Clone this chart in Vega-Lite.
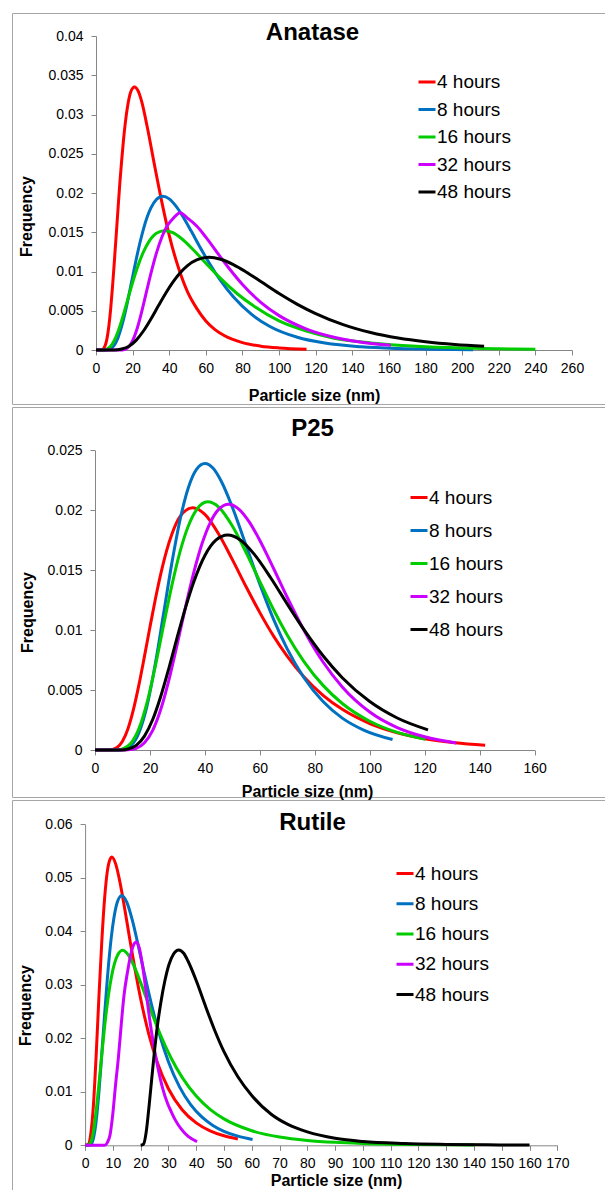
{
  "$schema": "https://vega.github.io/schema/vega-lite/v6.json",
  "padding": {"left": 11, "top": 12, "right": 0, "bottom": 0},
  "spacing": 3,
  "bounds": "flush",
  "config": {
    "view": {"stroke": "#a6a6a6", "strokeWidth": 1},
    "font": "Liberation Sans",
    "axis": {"domainColor": "#868686", "tickColor": "#868686", "labelColor": "#000000", "titleColor": "#000000", "labelFont": "Liberation Sans", "titleFont": "Liberation Sans", "labelFontSize": 14, "titleFontSize": 16, "titleFontWeight": "bold", "grid": false, "tickSize": 5, "labelFlush": false, "labelOverlap": false},
    "title": {"font": "Liberation Sans", "fontSize": 24, "fontWeight": "bold", "color": "#000000", "anchor": "middle", "frame": "group", "baseline": "alphabetic"},
    "legend": {"orient": "none", "title": null, "symbolType": "stroke", "symbolSize": 289, "symbolStrokeWidth": 3, "labelFontSize": 19, "labelFont": "Liberation Sans", "labelColor": "#000000", "labelOffset": 0, "padding": 0, "labelLimit": 0}
  },
  "datasets": {
    "anatase": [
      {"series":"4 hours","size":0,"freq":0},{"series":"4 hours","size":3,"freq":0},{"series":"4 hours","size":5,"freq":0.00055},{"series":"4 hours","size":6,"freq":0.00145},{"series":"4 hours","size":7,"freq":0.003},{"series":"4 hours","size":8,"freq":0.0052},{"series":"4 hours","size":9,"freq":0.008},{"series":"4 hours","size":10,"freq":0.0112},{"series":"4 hours","size":11,"freq":0.0145},{"series":"4 hours","size":12,"freq":0.0179},{"series":"4 hours","size":13,"freq":0.0212},{"series":"4 hours","size":14,"freq":0.0241},{"series":"4 hours","size":15,"freq":0.0267},{"series":"4 hours","size":16,"freq":0.0289},{"series":"4 hours","size":17.3,"freq":0.0311},{"series":"4 hours","size":19,"freq":0.0329},{"series":"4 hours","size":21,"freq":0.0335},{"series":"4 hours","size":23,"freq":0.033},{"series":"4 hours","size":25,"freq":0.0316},{"series":"4 hours","size":28,"freq":0.0284},{"series":"4 hours","size":32,"freq":0.0235},{"series":"4 hours","size":36,"freq":0.0188},{"series":"4 hours","size":40,"freq":0.0146},{"series":"4 hours","size":45,"freq":0.0105},{"series":"4 hours","size":50,"freq":0.0074},{"series":"4 hours","size":55,"freq":0.0053},{"series":"4 hours","size":60,"freq":0.0037},{"series":"4 hours","size":65,"freq":0.0026},{"series":"4 hours","size":70,"freq":0.00185},{"series":"4 hours","size":80,"freq":0.00094},{"series":"4 hours","size":90,"freq":0.00049},{"series":"4 hours","size":100,"freq":0.00026},{"series":"4 hours","size":115,"freq":0.0001},
      {"series":"8 hours","size":0,"freq":0},{"series":"8 hours","size":6,"freq":0},{"series":"8 hours","size":8,"freq":0.00018},{"series":"8 hours","size":10,"freq":0.00063},{"series":"8 hours","size":12,"freq":0.00155},{"series":"8 hours","size":14,"freq":0.003},{"series":"8 hours","size":16,"freq":0.00486},{"series":"8 hours","size":18,"freq":0.00704},{"series":"8 hours","size":20,"freq":0.00933},{"series":"8 hours","size":22,"freq":0.01159},{"series":"8 hours","size":24,"freq":0.01366},{"series":"8 hours","size":26,"freq":0.01547},{"series":"8 hours","size":28,"freq":0.01696},{"series":"8 hours","size":30,"freq":0.0181},{"series":"8 hours","size":33,"freq":0.01918},{"series":"8 hours","size":36.5,"freq":0.0196},{"series":"8 hours","size":40,"freq":0.01925},{"series":"8 hours","size":44,"freq":0.01823},{"series":"8 hours","size":48,"freq":0.01679},{"series":"8 hours","size":52,"freq":0.01515},{"series":"8 hours","size":57,"freq":0.01303},{"series":"8 hours","size":62,"freq":0.01102},{"series":"8 hours","size":68,"freq":0.00886},{"series":"8 hours","size":75,"freq":0.00677},{"series":"8 hours","size":85,"freq":0.00453},{"series":"8 hours","size":95,"freq":0.003},{"series":"8 hours","size":110,"freq":0.00162},{"series":"8 hours","size":125,"freq":0.00088},{"series":"8 hours","size":145,"freq":0.0004},{"series":"8 hours","size":165,"freq":0.000185},{"series":"8 hours","size":185,"freq":0.00009},{"series":"8 hours","size":206,"freq":0.00004},
      {"series":"16 hours","size":0,"freq":0},{"series":"16 hours","size":4,"freq":0},{"series":"16 hours","size":6,"freq":0.00012},{"series":"16 hours","size":8,"freq":0.00048},{"series":"16 hours","size":10,"freq":0.00122},{"series":"16 hours","size":12,"freq":0.00233},{"series":"16 hours","size":14,"freq":0.00374},{"series":"16 hours","size":16,"freq":0.00533},{"series":"16 hours","size":18,"freq":0.00698},{"series":"16 hours","size":20,"freq":0.0086},{"series":"16 hours","size":23,"freq":0.01078},{"series":"16 hours","size":26,"freq":0.01254},{"series":"16 hours","size":29,"freq":0.01384},{"series":"16 hours","size":33,"freq":0.01487},{"series":"16 hours","size":37.5,"freq":0.0152},{"series":"16 hours","size":42,"freq":0.01494},{"series":"16 hours","size":47,"freq":0.01414},{"series":"16 hours","size":53,"freq":0.0128},{"series":"16 hours","size":60,"freq":0.01106},{"series":"16 hours","size":68,"freq":0.00912},{"series":"16 hours","size":77,"freq":0.0072},{"series":"16 hours","size":87,"freq":0.00547},{"series":"16 hours","size":100,"freq":0.0037},{"series":"16 hours","size":115,"freq":0.0024},{"series":"16 hours","size":130,"freq":0.0015},{"series":"16 hours","size":150,"freq":0.0009},{"series":"16 hours","size":175,"freq":0.00047},{"series":"16 hours","size":200,"freq":0.00025},{"series":"16 hours","size":220,"freq":0.00016},{"series":"16 hours","size":240,"freq":0.0001},
      {"series":"32 hours","size":0,"freq":0},{"series":"32 hours","size":13,"freq":0},{"series":"32 hours","size":16,"freq":0.0001},{"series":"32 hours","size":18,"freq":0.00043},{"series":"32 hours","size":20,"freq":0.00119},{"series":"32 hours","size":22,"freq":0.0024},{"series":"32 hours","size":24,"freq":0.00401},{"series":"32 hours","size":26,"freq":0.00588},{"series":"32 hours","size":28,"freq":0.00784},{"series":"32 hours","size":30,"freq":0.00976},{"series":"32 hours","size":33,"freq":0.01234},{"series":"32 hours","size":36,"freq":0.0144},{"series":"32 hours","size":39,"freq":0.01585},{"series":"32 hours","size":42,"freq":0.01672},{"series":"32 hours","size":46,"freq":0.0175},{"series":"32 hours","size":50,"freq":0.0168},{"series":"32 hours","size":55,"freq":0.01579},{"series":"32 hours","size":60,"freq":0.01437},{"series":"32 hours","size":66,"freq":0.01247},{"series":"32 hours","size":72,"freq":0.0106},{"series":"32 hours","size":80,"freq":0.00835},{"series":"32 hours","size":90,"freq":0.00608},{"series":"32 hours","size":100,"freq":0.00438},{"series":"32 hours","size":115,"freq":0.00267},{"series":"32 hours","size":130,"freq":0.00163},{"series":"32 hours","size":145,"freq":0.001},{"series":"32 hours","size":161,"freq":0.0006},
      {"series":"48 hours","size":0,"freq":0},{"series":"48 hours","size":10,"freq":0},{"series":"48 hours","size":14,"freq":0.00012},{"series":"48 hours","size":18,"freq":0.00048},{"series":"48 hours","size":22,"freq":0.00126},{"series":"48 hours","size":26,"freq":0.00245},{"series":"48 hours","size":30,"freq":0.00395},{"series":"48 hours","size":34,"freq":0.00559},{"series":"48 hours","size":38,"freq":0.0072},{"series":"48 hours","size":42,"freq":0.00864},{"series":"48 hours","size":46,"freq":0.00984},{"series":"48 hours","size":50,"freq":0.01075},{"series":"48 hours","size":55,"freq":0.01147},{"series":"48 hours","size":61.7,"freq":0.0118},{"series":"48 hours","size":68,"freq":0.01156},{"series":"48 hours","size":75,"freq":0.01088},{"series":"48 hours","size":82,"freq":0.00994},{"series":"48 hours","size":90,"freq":0.00873},{"series":"48 hours","size":100,"freq":0.0072},{"series":"48 hours","size":110,"freq":0.00582},{"series":"48 hours","size":120,"freq":0.00464},{"series":"48 hours","size":135,"freq":0.00323},{"series":"48 hours","size":150,"freq":0.00223},{"series":"48 hours","size":165,"freq":0.00153},{"series":"48 hours","size":180,"freq":0.00105},{"series":"48 hours","size":196,"freq":0.0007},{"series":"48 hours","size":212,"freq":0.00047}
    ],
    "p25": [
      {"series":"4 hours","size":0,"freq":0},{"series":"4 hours","size":5,"freq":0},{"series":"4 hours","size":8,"freq":0.00021},{"series":"4 hours","size":10,"freq":0.00073},{"series":"4 hours","size":12,"freq":0.00178},{"series":"4 hours","size":14,"freq":0.00339},{"series":"4 hours","size":16,"freq":0.00545},{"series":"4 hours","size":18,"freq":0.00781},{"series":"4 hours","size":20,"freq":0.01026},{"series":"4 hours","size":22,"freq":0.01261},{"series":"4 hours","size":24,"freq":0.01475},{"series":"4 hours","size":26,"freq":0.01657},{"series":"4 hours","size":28,"freq":0.01802},{"series":"4 hours","size":31,"freq":0.01949},{"series":"4 hours","size":35.5,"freq":0.0202},{"series":"4 hours","size":40,"freq":0.01965},{"series":"4 hours","size":45,"freq":0.01802},{"series":"4 hours","size":50,"freq":0.01588},{"series":"4 hours","size":55,"freq":0.01362},{"series":"4 hours","size":60,"freq":0.01146},{"series":"4 hours","size":65,"freq":0.0095},{"series":"4 hours","size":70,"freq":0.00781},{"series":"4 hours","size":76,"freq":0.00611},{"series":"4 hours","size":83,"freq":0.00456},{"series":"4 hours","size":90,"freq":0.00339},{"series":"4 hours","size":100,"freq":0.00221},{"series":"4 hours","size":110,"freq":0.00144},{"series":"4 hours","size":120,"freq":0.00094},{"series":"4 hours","size":131,"freq":0.0006},{"series":"4 hours","size":142,"freq":0.0004},
      {"series":"8 hours","size":0,"freq":0},{"series":"8 hours","size":8,"freq":0},{"series":"8 hours","size":10,"freq":0.00004},{"series":"8 hours","size":13,"freq":0.00035},{"series":"8 hours","size":16,"freq":0.00145},{"series":"8 hours","size":19,"freq":0.00375},{"series":"8 hours","size":22,"freq":0.00725},{"series":"8 hours","size":25,"freq":0.01144},{"series":"8 hours","size":28,"freq":0.01563},{"series":"8 hours","size":31,"freq":0.01925},{"series":"8 hours","size":34,"freq":0.0219},{"series":"8 hours","size":37,"freq":0.02343},{"series":"8 hours","size":40,"freq":0.0239},{"series":"8 hours","size":43,"freq":0.0235},{"series":"8 hours","size":46,"freq":0.0224},{"series":"8 hours","size":50,"freq":0.02025},{"series":"8 hours","size":55,"freq":0.01705},{"series":"8 hours","size":60,"freq":0.01382},{"series":"8 hours","size":65,"freq":0.01089},{"series":"8 hours","size":70,"freq":0.00841},{"series":"8 hours","size":76,"freq":0.00605},{"series":"8 hours","size":83,"freq":0.00404},{"series":"8 hours","size":90,"freq":0.00266},{"series":"8 hours","size":98,"freq":0.00164},{"series":"8 hours","size":108.3,"freq":0.00087},
      {"series":"16 hours","size":0,"freq":0},{"series":"16 hours","size":8,"freq":0},{"series":"16 hours","size":10,"freq":0.00009},{"series":"16 hours","size":13,"freq":0.00054},{"series":"16 hours","size":16,"freq":0.00178},{"series":"16 hours","size":19,"freq":0.00401},{"series":"16 hours","size":22,"freq":0.00704},{"series":"16 hours","size":25,"freq":0.01045},{"series":"16 hours","size":28,"freq":0.01375},{"series":"16 hours","size":31,"freq":0.01659},{"series":"16 hours","size":34,"freq":0.01871},{"series":"16 hours","size":37,"freq":0.02006},{"series":"16 hours","size":41,"freq":0.0207},{"series":"16 hours","size":45,"freq":0.02027},{"series":"16 hours","size":50,"freq":0.01868},{"series":"16 hours","size":55,"freq":0.01647},{"series":"16 hours","size":60,"freq":0.01405},{"series":"16 hours","size":65,"freq":0.0117},{"series":"16 hours","size":70,"freq":0.00958},{"series":"16 hours","size":76,"freq":0.0074},{"series":"16 hours","size":83,"freq":0.00539},{"series":"16 hours","size":90,"freq":0.00388},{"series":"16 hours","size":100,"freq":0.0024},{"series":"16 hours","size":110,"freq":0.00147},{"series":"16 hours","size":120.2,"freq":0.00089},
      {"series":"32 hours","size":0,"freq":0},{"series":"32 hours","size":10,"freq":0},{"series":"32 hours","size":12,"freq":0.00002},{"series":"32 hours","size":15,"freq":0.00014},{"series":"32 hours","size":18,"freq":0.0006},{"series":"32 hours","size":21,"freq":0.00164},{"series":"32 hours","size":24,"freq":0.00344},{"series":"32 hours","size":27,"freq":0.00594},{"series":"32 hours","size":30,"freq":0.0089},{"series":"32 hours","size":33,"freq":0.01198},{"series":"32 hours","size":36,"freq":0.01485},{"series":"32 hours","size":39,"freq":0.01724},{"series":"32 hours","size":42,"freq":0.01899},{"series":"32 hours","size":45,"freq":0.02007},{"series":"32 hours","size":48.6,"freq":0.0205},{"series":"32 hours","size":52,"freq":0.02016},{"series":"32 hours","size":56,"freq":0.01907},{"series":"32 hours","size":60,"freq":0.01748},{"series":"32 hours","size":65,"freq":0.01514},{"series":"32 hours","size":70,"freq":0.01272},{"series":"32 hours","size":76,"freq":0.01001},{"series":"32 hours","size":83,"freq":0.00734},{"series":"32 hours","size":90,"freq":0.00526},{"series":"32 hours","size":100,"freq":0.00317},{"series":"32 hours","size":110,"freq":0.00187},{"series":"32 hours","size":120,"freq":0.0011},{"series":"32 hours","size":131.5,"freq":0.00059},
      {"series":"48 hours","size":0,"freq":0},{"series":"48 hours","size":10,"freq":0},{"series":"48 hours","size":12,"freq":0.00008},{"series":"48 hours","size":15,"freq":0.00038},{"series":"48 hours","size":18,"freq":0.00116},{"series":"48 hours","size":21,"freq":0.00254},{"series":"48 hours","size":24,"freq":0.00453},{"series":"48 hours","size":27,"freq":0.00692},{"series":"48 hours","size":30,"freq":0.00947},{"series":"48 hours","size":33,"freq":0.01192},{"series":"48 hours","size":36,"freq":0.01406},{"series":"48 hours","size":40,"freq":0.01623},{"series":"48 hours","size":44,"freq":0.0175},{"series":"48 hours","size":48.3,"freq":0.01793},{"series":"48 hours","size":53,"freq":0.0175},{"series":"48 hours","size":58,"freq":0.01632},{"series":"48 hours","size":64,"freq":0.01435},{"series":"48 hours","size":70,"freq":0.01217},{"series":"48 hours","size":76,"freq":0.01006},{"series":"48 hours","size":83,"freq":0.00786},{"series":"48 hours","size":90,"freq":0.00603},{"series":"48 hours","size":100,"freq":0.00404},{"series":"48 hours","size":110,"freq":0.00267},{"series":"48 hours","size":121.2,"freq":0.00168}
    ],
    "rutile": [
      {"series":"4 hours","size":0,"freq":0},{"series":"4 hours","size":1,"freq":0.0001},{"series":"4 hours","size":2,"freq":0.002},{"series":"4 hours","size":3,"freq":0.0075},{"series":"4 hours","size":4,"freq":0.017},{"series":"4 hours","size":5,"freq":0.028},{"series":"4 hours","size":6,"freq":0.038},{"series":"4 hours","size":7,"freq":0.046},{"series":"4 hours","size":8,"freq":0.0512},{"series":"4 hours","size":9,"freq":0.0535},{"series":"4 hours","size":9.6,"freq":0.0539},{"series":"4 hours","size":11,"freq":0.0526},{"series":"4 hours","size":12.5,"freq":0.0493},{"series":"4 hours","size":14,"freq":0.045},{"series":"4 hours","size":16,"freq":0.0388},{"series":"4 hours","size":18,"freq":0.0328},{"series":"4 hours","size":20,"freq":0.0274},{"series":"4 hours","size":23,"freq":0.02065},{"series":"4 hours","size":26,"freq":0.0155},{"series":"4 hours","size":30,"freq":0.01057},{"series":"4 hours","size":35,"freq":0.00661},{"series":"4 hours","size":40,"freq":0.0042},{"series":"4 hours","size":45,"freq":0.00271},{"series":"4 hours","size":50,"freq":0.00178},{"series":"4 hours","size":55,"freq":0.00119},
      {"series":"8 hours","size":0,"freq":0},{"series":"8 hours","size":1,"freq":0},{"series":"8 hours","size":2,"freq":0.00014},{"series":"8 hours","size":3,"freq":0.0013},{"series":"8 hours","size":4,"freq":0.00462},{"series":"8 hours","size":5,"freq":0.0101},{"series":"8 hours","size":6,"freq":0.017},{"series":"8 hours","size":7,"freq":0.0243},{"series":"8 hours","size":8,"freq":0.0311},{"series":"8 hours","size":9,"freq":0.0368},{"series":"8 hours","size":10,"freq":0.0412},{"series":"8 hours","size":11.5,"freq":0.0453},{"series":"8 hours","size":13.2,"freq":0.0467},{"series":"8 hours","size":15,"freq":0.04546},{"series":"8 hours","size":17,"freq":0.04208},{"series":"8 hours","size":19,"freq":0.03764},{"series":"8 hours","size":21,"freq":0.0329},{"series":"8 hours","size":24,"freq":0.02613},{"series":"8 hours","size":27,"freq":0.02033},{"series":"8 hours","size":30,"freq":0.01563},{"series":"8 hours","size":34,"freq":0.01091},{"series":"8 hours","size":38,"freq":0.0076},{"series":"8 hours","size":42,"freq":0.0053},{"series":"8 hours","size":46,"freq":0.00372},{"series":"8 hours","size":50,"freq":0.00262},{"series":"8 hours","size":55,"freq":0.00171},{"series":"8 hours","size":60.3,"freq":0.0011},
      {"series":"16 hours","size":0,"freq":0},{"series":"16 hours","size":1,"freq":0},{"series":"16 hours","size":2,"freq":0.00052},{"series":"16 hours","size":3,"freq":0.0026},{"series":"16 hours","size":4,"freq":0.0065},{"series":"16 hours","size":5,"freq":0.01152},{"series":"16 hours","size":6,"freq":0.01692},{"series":"16 hours","size":7,"freq":0.02203},{"series":"16 hours","size":8,"freq":0.02646},{"series":"16 hours","size":9,"freq":0.03005},{"series":"16 hours","size":10,"freq":0.03278},{"series":"16 hours","size":11.5,"freq":0.03533},{"series":"16 hours","size":13.5,"freq":0.03645},{"series":"16 hours","size":15,"freq":0.03594},{"series":"16 hours","size":17,"freq":0.03422},{"series":"16 hours","size":19,"freq":0.03177},{"series":"16 hours","size":21,"freq":0.029},{"series":"16 hours","size":24,"freq":0.02475},{"series":"16 hours","size":27,"freq":0.0208},{"series":"16 hours","size":31,"freq":0.01627},{"series":"16 hours","size":35,"freq":0.01264},{"series":"16 hours","size":40,"freq":0.0092},{"series":"16 hours","size":45,"freq":0.00672},{"series":"16 hours","size":50,"freq":0.00494},{"series":"16 hours","size":60,"freq":0.00272},{"series":"16 hours","size":70,"freq":0.00155},{"series":"16 hours","size":80,"freq":0.00091},{"series":"16 hours","size":90,"freq":0.00055},{"series":"16 hours","size":100,"freq":0.00034},{"series":"16 hours","size":120,"freq":0.00014},{"series":"16 hours","size":140,"freq":0.00006},
      {"series":"32 hours","size":0,"freq":0},{"series":"32 hours","size":7,"freq":0},{"series":"32 hours","size":8,"freq":0.0005},{"series":"32 hours","size":9,"freq":0.002},{"series":"32 hours","size":9.9,"freq":0.0055},{"series":"32 hours","size":11,"freq":0.0115},{"series":"32 hours","size":12,"freq":0.0165},{"series":"32 hours","size":13,"freq":0.0225},{"series":"32 hours","size":14,"freq":0.028},{"series":"32 hours","size":15.3,"freq":0.0325},{"series":"32 hours","size":16.5,"freq":0.0358},{"series":"32 hours","size":17.5,"freq":0.0375},{"series":"32 hours","size":18.4,"freq":0.038},{"series":"32 hours","size":19.5,"freq":0.0369},{"series":"32 hours","size":20.7,"freq":0.0335},{"series":"32 hours","size":22,"freq":0.0285},{"series":"32 hours","size":23.1,"freq":0.0241},{"series":"32 hours","size":24.5,"freq":0.0193},{"series":"32 hours","size":26.1,"freq":0.0148},{"series":"32 hours","size":28,"freq":0.0105},{"series":"32 hours","size":29.7,"freq":0.0078},{"series":"32 hours","size":31,"freq":0.0063},{"series":"32 hours","size":32.5,"freq":0.0047},{"series":"32 hours","size":34.5,"freq":0.0031},{"series":"32 hours","size":37,"freq":0.0017},{"series":"32 hours","size":40.3,"freq":0.0007},
      {"series":"48 hours","size":20,"freq":0},{"series":"48 hours","size":21,"freq":0.0002},{"series":"48 hours","size":22,"freq":0.0025},{"series":"48 hours","size":23,"freq":0.0072},{"series":"48 hours","size":24,"freq":0.0125},{"series":"48 hours","size":25,"freq":0.0177},{"series":"48 hours","size":26,"freq":0.0222},{"series":"48 hours","size":27.3,"freq":0.0268},{"series":"48 hours","size":28.7,"freq":0.0307},{"series":"48 hours","size":30.2,"freq":0.0338},{"series":"48 hours","size":31.8,"freq":0.0357},{"series":"48 hours","size":33.7,"freq":0.0365},{"series":"48 hours","size":35.5,"freq":0.0359},{"series":"48 hours","size":37,"freq":0.0345},{"series":"48 hours","size":40,"freq":0.0308},{"series":"48 hours","size":43,"freq":0.0265},{"series":"48 hours","size":46.5,"freq":0.0217},{"series":"48 hours","size":50,"freq":0.0175},{"series":"48 hours","size":55,"freq":0.0128},{"series":"48 hours","size":60,"freq":0.0093},{"series":"48 hours","size":67,"freq":0.0058},{"series":"48 hours","size":73,"freq":0.0039},{"series":"48 hours","size":80,"freq":0.0025},{"series":"48 hours","size":90,"freq":0.0013},{"series":"48 hours","size":100,"freq":0.0007},{"series":"48 hours","size":115,"freq":0.00033},{"series":"48 hours","size":130,"freq":0.00017},{"series":"48 hours","size":145,"freq":0.00008},{"series":"48 hours","size":160,"freq":0.00005}
    ]
  },
  "vconcat": [
    {
      "width": 602, "height": 391,
      "data": {"name": "anatase"},
      "title": {"text": "Anatase", "offset": -32.2, "dx": -0.5},
      "mark": {"type": "line", "strokeWidth": 3, "interpolate": "monotone"},
      "encoding": {
        "x": {"field": "size", "type": "quantitative", "scale": {"domain": [0, 260], "range": [84, 560], "nice": false},
              "axis": {"values": [0,20,40,60,80,100,120,140,160,180,200,220,240,260], "format": "d", "offset": -54, "labelPadding": 6, "title": "Particle size (nm)", "titleX": 302, "titleY": 50, "titleBaseline": "alphabetic"}},
        "y": {"field": "freq", "type": "quantitative", "scale": {"domain": [0, 0.04], "range": [337, 23], "nice": false},
              "axis": {"values": [0,0.005,0.01,0.015,0.02,0.025,0.03,0.035,0.04], "format": ".3~f", "offset": -84, "labelPadding": 8, "title": "Frequency", "titleX": -70, "titleY": 203, "titleBaseline": "middle", "titleAngle": -90}},
        "color": {"field": "series", "type": "nominal",
                  "scale": {"domain": ["4 hours","8 hours","16 hours","32 hours","48 hours"], "range": ["#ff0000","#0070c0","#00cc00","#cc00ff","#000000"]},
                  "legend": {"legendX": 405, "legendY": 59, "rowPadding": 7.5}}
      }
    },
    {
      "width": 602, "height": 390,
      "data": {"name": "p25"},
      "title": {"text": "P25", "offset": -33.8, "dx": -0.5},
      "mark": {"type": "line", "strokeWidth": 3, "interpolate": "monotone"},
      "encoding": {
        "x": {"field": "size", "type": "quantitative", "scale": {"domain": [0, 160], "range": [83, 522.6], "nice": false},
              "axis": {"values": [0,20,40,60,80,100,120,140,160], "format": "d", "offset": -47, "labelPadding": 6, "title": "Particle size (nm)", "titleX": 295, "titleY": 46, "titleBaseline": "alphabetic"}},
        "y": {"field": "freq", "type": "quantitative", "scale": {"domain": [0, 0.025], "range": [343, 43.3], "nice": false},
              "axis": {"values": [0,0.005,0.01,0.015,0.02,0.025], "format": ".3~f", "offset": -83, "labelPadding": 8, "title": "Frequency", "titleX": -68, "titleY": 205, "titleBaseline": "middle", "titleAngle": -90}},
        "color": {"field": "series", "type": "nominal",
                  "scale": {"domain": ["4 hours","8 hours","16 hours","32 hours","48 hours"], "range": ["#ff0000","#0070c0","#00cc00","#cc00ff","#000000"]},
                  "legend": {"legendX": 397, "legendY": 80.5, "rowPadding": 13}}
      }
    },
    {
      "width": 602, "height": 391,
      "data": {"name": "rutile"},
      "title": {"text": "Rutile", "offset": -35.2, "dx": -0.5},
      "mark": {"type": "line", "strokeWidth": 3, "interpolate": "monotone"},
      "encoding": {
        "x": {"field": "size", "type": "quantitative", "scale": {"domain": [0, 170], "range": [73.1, 545.3], "nice": false},
              "axis": {"values": [0,10,20,30,40,50,60,70,80,90,100,110,120,130,140,150,160,170], "format": "d", "offset": -45.7, "labelPadding": 6, "title": "Particle size (nm)", "titleX": 324, "titleY": 40, "titleBaseline": "alphabetic"}},
        "y": {"field": "freq", "type": "quantitative", "scale": {"domain": [0, 0.06], "range": [345.3, 24.3], "nice": false},
              "axis": {"values": [0,0.01,0.02,0.03,0.04,0.05,0.06], "format": ".2~f", "offset": -73.1, "labelPadding": 8, "title": "Frequency", "titleX": -60, "titleY": 205, "titleBaseline": "middle", "titleAngle": -90}},
        "color": {"field": "series", "type": "nominal",
                  "scale": {"domain": ["4 hours","8 hours","16 hours","32 hours","48 hours"], "range": ["#ff0000","#0070c0","#00cc00","#cc00ff","#000000"]},
                  "legend": {"legendX": 383, "legendY": 63.5, "rowPadding": 10.25}}
      }
    }
  ],
  "resolve": {"scale": {"color": "independent", "x": "independent", "y": "independent"}, "legend": {"color": "independent"}}
}
